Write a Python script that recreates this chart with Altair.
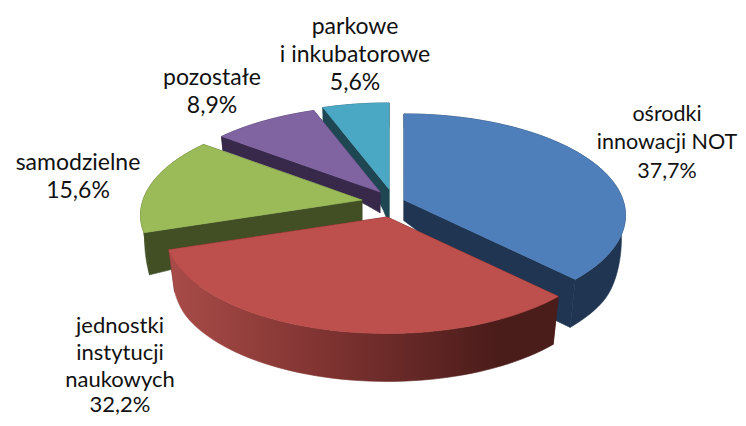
import math
import altair as alt
import pandas as pd

# --- values
categories = ["ośrodki innowacji NOT", "jednostki instytucji naukowych", "samodzielne", "pozostałe", "parkowe i inkubatorowe"]
shares = [37.7, 32.2, 15.6, 8.9, 5.6]
share_labels = ["37,7%", "32,2%", "15,6%", "8,9%", "5,6%"]
face_colors = ["#4f7fba", "#bd4f4c", "#9bbb59", "#8064a2", "#4aa8c4"]
wall_colors = ["#1f3552", "#4a1c1a", "#424f25", "#38284a", "#1e4753"]

# --- layout of the drawing (pixels of the page)
apex_x = [404, 387, 362, 380, 389]
apex_y = [200, 217, 200, 192, 189]
wall_scale = [1, 1, 1, 1, 1.7]
RX, RY, PERSP = 219, 99, 0.15

label_lines = [
    ["ośrodki", "innowacji NOT", share_labels[0]],
    ["jednostki", "instytucji", "naukowych", share_labels[1]],
    ["samodzielne", share_labels[2]],
    ["pozostałe", share_labels[3]],
    ["parkowe", "i inkubatorowe", share_labels[4]],
]
label_x = [667, 120, 78, 212, 355]
label_size = [21.5, 22, 23, 23, 23]
label_y = [[115, 143, 172], [326, 353, 380, 405], [163, 191], [78, 106], [27, 55, 83]]


def project(theta):
    u, v = math.sin(theta), -math.cos(theta)
    s = 1 / (1 - PERSP * v)
    return RX * u * s, RY * v * s, v


def depth(v):
    t = min(1, max(0, (v + 0.2) / 0.7))
    return 14 + 34 * t * t * (3 - 2 * t)


def drop(px, py, v, ax, ay, scale):
    d = depth(v)
    return ax + px * (1 - 0.03 * d / 48), ay + py + d * scale


def polygon(points, name):
    return pd.DataFrame(
        {"x": [p[0] for p in points], "y": [p[1] for p in points], "i": range(len(points)), "poly": name}
    )


X = alt.X("x:Q", scale=alt.Scale(domain=[8, 738]), axis=None)
Y = alt.Y("y:Q", scale=alt.Scale(domain=[418, 8]), axis=None)


def shape(points, name, fill):
    return (
        alt.Chart(polygon(points, name))
        .mark_line(fill=fill, stroke=fill, strokeWidth=0.6, interpolate="linear-closed", clip=False)
        .encode(x=X, y=Y, order=alt.Order("i:Q"))
    )


red_wall = alt.LinearGradient(
    gradient="linear",
    x1=0, x2=1, y1=0, y2=0,
    stops=[
        alt.GradientStop(color="#a94c48", offset=0),
        alt.GradientStop(color="#7f3331", offset=0.4),
        alt.GradientStop(color="#4a1c1a", offset=0.85),
        alt.GradientStop(color="#4a1c1a", offset=1),
    ],
)

cum = [0]
for val in shares:
    cum.append(cum[-1] + val)
total = cum[-1]

layers = []
for idx in [4, 3, 2, 0, 1]:
    ax, ay, ws = apex_x[idx], apex_y[idx], wall_scale[idx]
    a0, a1 = cum[idx] / total * 2 * math.pi, cum[idx + 1] / total * 2 * math.pi
    n = max(6, int((a1 - a0) / math.radians(2)))
    rim = [project(a0 + (a1 - a0) * k / n) for k in range(n + 1)]
    rim_top = [(ax + p[0], ay + p[1]) for p in rim]
    rim_low = [drop(p[0], p[1], p[2], ax, ay, ws) for p in rim]
    for edge, side in ((rim[0], "a"), (rim[-1], "b")):
        steps = 12
        top = [(ax + edge[0] * k / steps, ay + edge[1] * k / steps) for k in range(steps + 1)]
        low = [drop(edge[0] * k / steps, edge[1] * k / steps, edge[2] * k / steps, ax, ay, ws) for k in range(steps + 1)]
        layers.append(shape(top + low[::-1], f"edge{idx}{side}", wall_colors[idx]))
    layers.append(shape(rim_top + rim_low[::-1], f"rim{idx}", red_wall if idx == 1 else wall_colors[idx]))
    layers.append(shape([(ax, ay)] + rim_top, f"face{idx}", face_colors[idx]))

rows = []
for k, lines in enumerate(label_lines):
    for line, yy in zip(lines, label_y[k]):
        rows.append({"x": label_x[k], "y": yy, "t": line, "s": label_size[k]})
text = (
    alt.Chart(pd.DataFrame(rows))
    .mark_text(font="Lato", color="#111111", align="center", baseline="middle")
    .encode(x=X, y=Y, text="t:N", size=alt.Size("s:Q", scale=None, legend=None))
)
layers.append(text)

chart = (
    alt.layer(*layers)
    .properties(width=730, height=410, padding=0, autosize=alt.AutoSizeParams(type="none"))
    .configure_view(stroke=None)
)
chart.save("out.html", embed_options={"renderer": "svg", "actions": False})
